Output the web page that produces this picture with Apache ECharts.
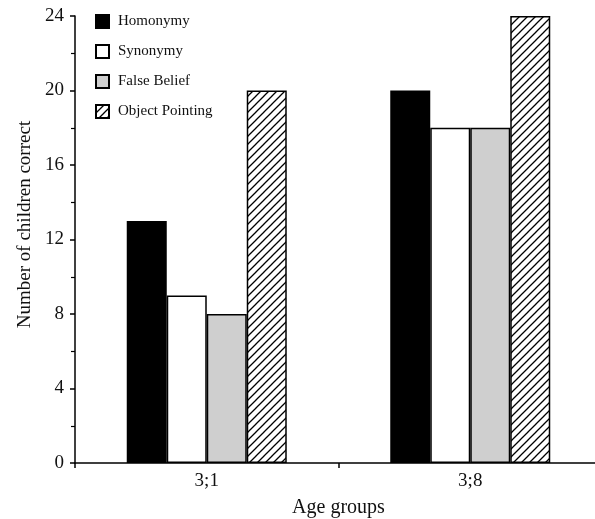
<!DOCTYPE html>
<html>
<head>
<meta charset="utf-8">
<script src="https://cdn.jsdelivr.net/npm/echarts@6/dist/echarts.min.js"></script>
<style>html,body{margin:0;padding:0;background:#fff;}#c{width:595px;height:519px;}</style>
</head>
<body>
<div id="c"></div>
<script>
const categories = ['3;1', '3;8'];
const homonymy = [13, 20];
const synonymy = [9, 18];
const falseBelief = [8, 18];
const objectPointing = [20, 24];
const yTicks = [0, 4, 8, 12, 16, 20, 24];

function hatch() {
  const s = 8;
  const c = document.createElement('canvas');
  c.width = s; c.height = s;
  const g = c.getContext('2d');
  g.fillStyle = '#fff'; g.fillRect(0, 0, s, s);
  g.strokeStyle = '#000'; g.lineWidth = 1.3;
  g.beginPath();
  g.moveTo(-1, s + 1); g.lineTo(s + 1, -1);
  g.moveTo(-2, 2); g.lineTo(2, -2);
  g.moveTo(s - 2, s + 2); g.lineTo(s + 2, s - 2);
  g.stroke();
  return c;
}

const font = 'Liberation Serif';
const border = { borderColor: '#000', borderWidth: 1.5 };
const chart = echarts.init(document.getElementById('c'), null, { renderer: 'canvas' });
chart.setOption({
  animation: false,
  backgroundColor: '#fff',
  textStyle: { fontFamily: font, color: '#111' },
  grid: { left: 75, right: -7, top: 16, bottom: 56, containLabel: false, outerBoundsMode: 'none' },
  legend: {
    orient: 'vertical', left: 90, top: 9, itemWidth: 13, itemHeight: 13, itemGap: 15,
    textStyle: { fontFamily: font, fontSize: 15, color: '#111', padding: [0, 0, 0, 4] },
    icon: 'rect'
  },
  xAxis: {
    type: 'category', data: categories,
    name: 'Age groups', nameLocation: 'middle', nameGap: 35,
    nameTextStyle: { fontFamily: font, fontSize: 20, color: '#111' },
    axisLine: { lineStyle: { color: '#000', width: 1.5 } },
    axisTick: { show: true, length: 5, lineStyle: { color: '#000', width: 1.5 } },
    axisLabel: { fontFamily: font, fontSize: 19, color: '#111', margin: 9 }
  },
  yAxis: {
    type: 'value', min: 0, max: 24, interval: 4,
    name: 'Number of children correct', nameLocation: 'middle', nameGap: 40,
    nameTextStyle: { fontFamily: font, fontSize: 19, color: '#111', padding: [0, 0, 0, 30] },
    axisLine: { show: true, lineStyle: { color: '#000', width: 1.5 } },
    axisTick: { show: true, length: 5, lineStyle: { color: '#000', width: 1.5 } },
    minorTick: { show: true, splitNumber: 2, length: 4, lineStyle: { color: '#000', width: 1.2 } },
    splitLine: { show: false },
    axisLabel: { fontFamily: font, fontSize: 19, color: '#111', margin: 11,
      formatter: v => yTicks.includes(v) ? String(v) : '' }
  },
  series: [
    { name: 'Homonymy', type: 'bar', data: homonymy, barWidth: 40, barGap: '0%',
      itemStyle: Object.assign({ color: '#000' }, border) },
    { name: 'Synonymy', type: 'bar', data: synonymy, barWidth: 40, barGap: '0%',
      itemStyle: Object.assign({ color: '#fff' }, border) },
    { name: 'False Belief', type: 'bar', data: falseBelief, barWidth: 40, barGap: '0%',
      itemStyle: Object.assign({ color: '#cfcfcf' }, border) },
    { name: 'Object Pointing', type: 'bar', data: objectPointing, barWidth: 40, barGap: '0%',
      itemStyle: Object.assign({ color: { image: hatch(), repeat: 'repeat' } }, border) }
  ]
});
</script>
</body>
</html>
